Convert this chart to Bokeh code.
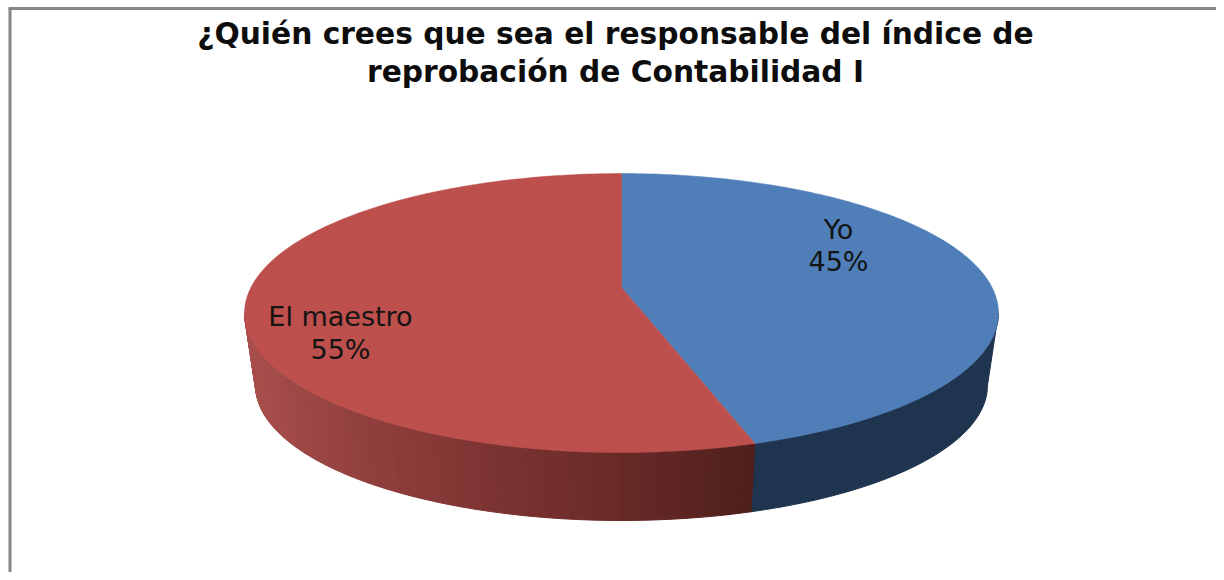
import numpy as np
from bokeh.plotting import figure
from bokeh.models import Range1d
from bokeh.embed import file_html
from bokeh.resources import INLINE
from bokeh.core.properties import value

title_lines = ["¿Quién crees que sea el responsable del índice de",
               "reprobación de Contabilidad I"]
categories = ["Yo", "El maestro"]
shares = [45.2, 54.8]
percent_labels = ["45%", "55%"]
face_colors = ["#4f7eb9", "#bd4f4c"]
blue_wall = "#1f344f"
red_wall_stops = ["#a84f4c", "#8f3e3c", "#7b3331", "#672927", "#4f1f1c"]

W, H = 1216, 572
p = figure(width=W, height=H, output_backend="svg", toolbar_location=None,
           x_range=Range1d(0, W), y_range=Range1d(H, 0), min_border=0,
           outline_line_color=None, background_fill_color="white")
p.axis.visible = False
p.grid.visible = False

XC, YC = 621, 287               # apex of the slices
A, B, K = 134.8, 370.6, -0.183  # projection of the disc to the screen
ECY, ERX, ERY = 312.5, 377, 139.5
LCY, LRX, LRY = 385, 366, 135


def top(theta):
    u, v = np.sin(theta), -np.cos(theta)
    d = 1 + K * v
    return XC + B * u / d, YC + A * v / d


def low(theta):
    x, y = top(theta)
    return XC + (x - XC) * LRX / ERX, LCY + (y - ECY) * LRY / ERY


fractions = np.cumsum([0] + shares) / sum(shares)
angles = fractions * 2 * np.pi
split = angles[1]

# the walls start where the top ellipse is widest
dy = ECY - YC
v0 = dy / (A - K * dy)
theta_right = np.arccos(-v0)
theta_left = 2 * np.pi - theta_right

# side walls
blue_t = np.linspace(theta_right, split, 40)
tx, ty = top(blue_t)
lx, ly = low(blue_t)
p.patches([list(tx) + list(lx[::-1])], [list(ty) + list(ly[::-1])],
          fill_color=[blue_wall], line_color=[blue_wall], line_width=1)

stops_rgb = np.array([[int(c[i:i + 2], 16) for i in (1, 3, 5)] for c in red_wall_stops], float)
red_t = np.linspace(split, theta_left, 90)
xs, ys, cols = [], [], []
lo = top(red_t)[0].min()
hi = top(red_t)[0].max()
for t0, t1 in zip(red_t[:-1], red_t[1:]):
    seg = np.array([t0, t1])
    tx, ty = top(seg)
    lx, ly = low(seg)
    xs.append(list(tx) + list(lx[::-1]))
    ys.append(list(ty) + list(ly[::-1]))
    f = (hi - tx.mean()) / (hi - lo)      # 0 at the divider, 1 at the left end
    pos = (1 - f) * (len(stops_rgb) - 1)
    rgb = [np.interp(pos, range(len(stops_rgb)), stops_rgb[:, i]) for i in range(3)]
    cols.append("#%02x%02x%02x" % tuple(int(round(c)) for c in rgb))
p.patches(xs, ys, fill_color=cols, line_color=cols, line_width=1)

# top faces
xs, ys = [], []
for a0, a1 in zip(angles[:-1], angles[1:]):
    t = np.linspace(a0, a1, 160)
    x, y = top(t)
    xs.append([XC] + list(x))
    ys.append([YC] + list(y))
p.patches(xs, ys, fill_color=face_colors, line_color=face_colors, line_width=0.5)

# frame
p.line([9.5, 9.5], [H, 8], line_color="#868686", line_width=3)
p.line([8, W], [8, 8], line_color="#868686", line_width=3)

# texts
p.text([615, 615], [33, 71], text=title_lines, text_font=value("DejaVu Sans"),
       text_font_style="bold", text_font_size="29.7px", text_align="center",
       text_baseline="middle", text_color="#0d0d0d")
lab_x = [838, 838, 340, 340]
lab_y = [229, 261, 316, 349]
lab_t = [categories[0], percent_labels[0], categories[1], percent_labels[1]]
p.text(lab_x, lab_y, text=lab_t, text_font=value("DejaVu Sans"), text_font_size="27px",
       text_align="center", text_baseline="middle", text_color="#141414")

open("out.html", "w").write(file_html(p, INLINE))
